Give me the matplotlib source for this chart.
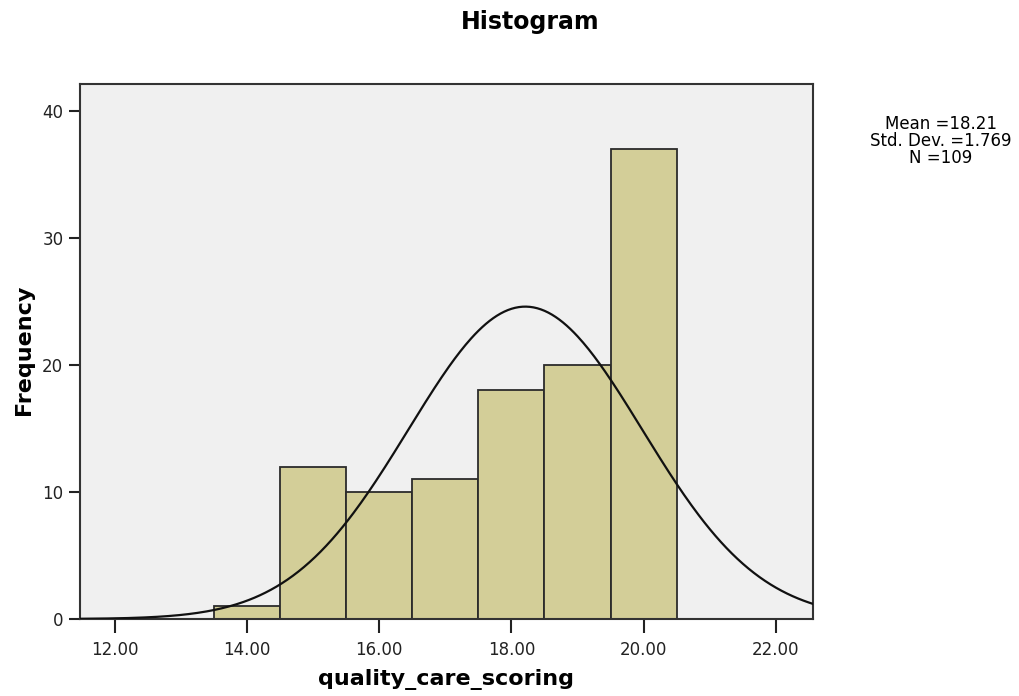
import numpy as np
import matplotlib
matplotlib.use("Agg")
import matplotlib.pyplot as plt

bin_edges = [13.5, 14.5, 15.5, 16.5, 17.5, 18.5, 19.5, 20.5]
counts = [1, 12, 10, 11, 18, 20, 37]
mean_val = 18.21
std_val = 1.769
n_val = 109
xticks = [12, 14, 16, 18, 20, 22]
xtick_labels = ["12.00", "14.00", "16.00", "18.00", "20.00", "22.00"]
yticks = [0, 10, 20, 30, 40]

plt.rcParams['font.family'] = ['DejaVu Sans']
fig = plt.figure(figsize=(10.2, 6.96), dpi=100)
ax = fig.add_axes([80/1020, 1-619/696, (812.7-80)/1020, (619-84)/696])
ax.set_facecolor('#f0f0f0')

widths = np.diff(bin_edges)
ax.bar(bin_edges[:-1], counts, width=widths, align='edge', color='#d3ce98',
       edgecolor='#2b2b2b', linewidth=1.3, zorder=2)

xs = np.linspace(11.47, 22.56, 400)
bw = widths[0]
ys = n_val * bw / (std_val * np.sqrt(2*np.pi)) * np.exp(-0.5*((xs-mean_val)/std_val)**2)
ax.plot(xs, ys, color='#111111', linewidth=1.6, zorder=3)

ax.set_xlim(11.47, 22.56)
ax.set_ylim(0, 42.1)
ax.set_xticks(xticks)
ax.set_xticklabels(xtick_labels)
ax.set_yticks(yticks)
ax.tick_params(axis='both', direction='out', length=8, width=1.5, labelsize=12,
               color='#222222', labelcolor='#222222', pad=4)
ax.tick_params(axis='x', length=10, pad=6)
for s in ax.spines.values():
    s.set_linewidth(1.5)
    s.set_color('#333333')

fig.text(446/1020, 1-679/696, 'quality_care_scoring', fontsize=16, fontweight='bold',
         ha='center', va='center')
fig.text(24/1020, 1-350/696, 'Frequency', fontsize=16, fontweight='bold',
         ha='center', va='center', rotation=90)
fig.text(530/1020, 1-22/696, 'Histogram', fontsize=17, fontweight='bold',
         ha='center', va='center')
fig.text(941/1020, 1-141/696, f"Mean ={mean_val}\nStd. Dev. ={std_val}\nN ={n_val}",
         fontsize=12, ha='center', va='center', linespacing=0.95)

fig.savefig('out.png', dpi=100)
